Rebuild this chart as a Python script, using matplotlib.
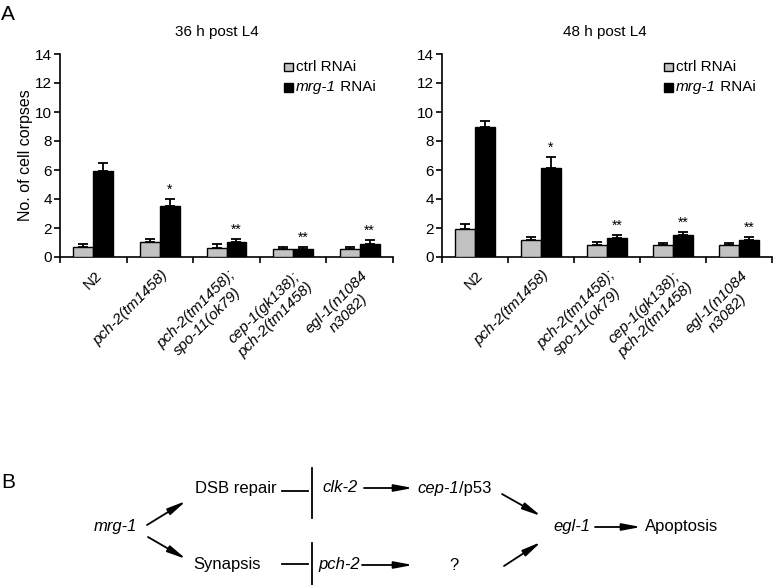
import matplotlib
matplotlib.use("Agg")
import matplotlib.pyplot as plt
import matplotlib.transforms as mtransforms
from matplotlib.lines import Line2D
from matplotlib.patches import Rectangle, FancyArrowPatch
import numpy as np

plt.rcParams['font.family'] = ['Liberation Sans', 'DejaVu Sans']

# genotypes on the x axis
genotypes = ['N2', 'pch-2(tm1458)', 'pch-2(tm1458);\nspo-11(ok79)',
             'cep-1(gk138);\npch-2(tm1458)', 'egl-1(n1084\nn3082)']
italic_label = [False, True, True, True, True]

# 36 h post L4
ctrl_36 = [0.68, 1.03, 0.65, 0.55, 0.57]
ctrl_36_err = [0.2, 0.22, 0.22, 0.13, 0.12]
mrg_36 = [5.93, 3.5, 1.01, 0.57, 0.91]
mrg_36_err = [0.55, 0.52, 0.22, 0.15, 0.24]
sig_36 = ['', '*', '**', '**', '**']

# 48 h post L4
ctrl_48 = [1.93, 1.16, 0.81, 0.81, 0.81]
ctrl_48_err = [0.35, 0.23, 0.24, 0.16, 0.14]
mrg_48 = [8.95, 6.16, 1.28, 1.51, 1.16]
mrg_48_err = [0.42, 0.77, 0.23, 0.23, 0.24]
sig_48 = ['', '*', '**', '**', '**']

GRAY = '#c2c2c2'
W, H = 777, 585
fig = plt.figure(figsize=(7.77, 5.85), dpi=100)


def fx(px):
    return px / W


def fy(py):
    return 1 - py / H


def panel(ax, ctrl, ctrl_err, mrg, mrg_err, sig):
    x = np.arange(len(genotypes))
    bw = 0.3
    err_kw = dict(ecolor='black', elinewidth=1.3, capsize=3.5, capthick=1.3)
    ax.bar(x - bw / 2, ctrl, bw, yerr=[np.zeros(len(ctrl)), ctrl_err],
           color=GRAY, edgecolor='black', linewidth=1.0, error_kw=err_kw, zorder=3)
    ax.bar(x + bw / 2, mrg, bw, yerr=[np.zeros(len(mrg)), mrg_err],
           color='black', edgecolor='black', linewidth=1.0, error_kw=err_kw, zorder=3)
    for i, s in enumerate(sig):
        if s:
            ax.text(x[i] + bw / 2, mrg[i] + mrg_err[i] + 0.15, s,
                    ha='center', va='bottom', fontsize=10)
    ax.set_xlim(-0.5, len(genotypes) - 0.5)
    ax.set_ylim(0, 14)
    ax.set_yticks(range(0, 15, 2))
    ax.set_xticks(np.arange(-0.5, len(genotypes)))
    ax.set_xticklabels([])
    ax.tick_params(axis='x', length=4, width=1.2, direction='out')
    ax.tick_params(axis='y', length=4, width=1.2, labelsize=11, pad=2)
    for sp in ['top', 'right']:
        ax.spines[sp].set_visible(False)
    for sp in ['left', 'bottom']:
        ax.spines[sp].set_linewidth(1.2)

    # rotated genotype labels
    trans = ax.get_xaxis_transform() + mtransforms.ScaledTranslation(
        1 / 100, -11 / 100, fig.dpi_scale_trans)
    for i, (lab, it) in enumerate(zip(genotypes, italic_label)):
        ax.text(x[i], 0, lab, transform=trans, rotation=45, ha='right', va='top',
                rotation_mode='anchor', multialignment='center', fontsize=11,
                fontstyle='italic' if it else 'normal')

    # legend
    lx, sw, sh = 0.672, 0.027, 0.044
    for yy, col in [(0.936, GRAY), (0.837, 'black')]:
        ax.add_patch(Rectangle((lx, yy - sh / 2), sw, sh, transform=ax.transAxes,
                               facecolor=col, edgecolor='black', lw=1.0, clip_on=False))
    ax.text(lx + sw + 0.01, 0.936, 'ctrl RNAi', transform=ax.transAxes,
            va='center', ha='left', fontsize=11)
    t = ax.text(lx + sw + 0.01, 0.837, 'mrg-1', transform=ax.transAxes,
                va='center', ha='left', fontsize=11, fontstyle='italic')
    ax.annotate(' RNAi', xy=(1, 0), xycoords=t, va='bottom', ha='left', fontsize=11)


ax1 = fig.add_axes([fx(60), fy(257), fx(393) - fx(60), fy(54) - fy(257)])
panel(ax1, ctrl_36, ctrl_36_err, mrg_36, mrg_36_err, sig_36)
ax1.set_ylabel('No. of cell corpses', fontsize=11.5)
ax1.yaxis.set_label_coords(-0.08, 0.5)

ax2 = fig.add_axes([fx(442), fy(257), fx(772) - fx(442), fy(54) - fy(257)])
panel(ax2, ctrl_48, ctrl_48_err, mrg_48, mrg_48_err, sig_48)

fig.text(fx(217), fy(32), '36 h post L4', ha='center', va='center', fontsize=11)
fig.text(fx(605), fy(32), '48 h post L4', ha='center', va='center', fontsize=11)
fig.text(fx(1), fy(15), 'A', ha='left', va='center', fontsize=15)

# panel B: pathway diagram
fig.text(fx(1), fy(482), 'B', ha='left', va='center', fontsize=15)
fs = 12
fig.text(fx(115), fy(527), 'mrg-1', ha='center', va='center', fontsize=fs, fontstyle='italic')
fig.text(fx(236), fy(488), 'DSB repair', ha='center', va='center', fontsize=fs)
fig.text(fx(227), fy(565), 'Synapsis', ha='center', va='center', fontsize=fs)
fig.text(fx(340), fy(488), 'clk-2', ha='center', va='center', fontsize=fs, fontstyle='italic')
fig.text(fx(339), fy(565), 'pch-2', ha='center', va='center', fontsize=fs, fontstyle='italic')
t = fig.text(fx(417), fy(488), 'cep-1', ha='left', va='center', fontsize=fs, fontstyle='italic')
fig.add_artist(matplotlib.text.Annotation('/p53', xy=(1, 0), xycoords=t,
                                          va='bottom', ha='left', fontsize=fs))
fig.text(fx(454), fy(566), '?', ha='center', va='center', fontsize=fs)
fig.text(fx(572), fy(527), 'egl-1', ha='center', va='center', fontsize=fs, fontstyle='italic')
fig.text(fx(682), fy(527), 'Apoptosis', ha='center', va='center', fontsize=fs)

arrows = [((147, 525), (186, 501)), ((148, 537), (186, 559)),
          ((364, 488), (413, 488)), ((362, 565), (413, 565)),
          ((502, 494), (541, 516)), ((504, 566), (541, 542)),
          ((595, 527), (641, 527))]
for (x0, y0), (x1, y1) in arrows:
    fig.add_artist(FancyArrowPatch(
        (fx(x0), fy(y0)), (fx(x1), fy(y1)), transform=fig.transFigure,
        arrowstyle='-|>,head_length=0.8,head_width=0.15', mutation_scale=14,
        color='black', linewidth=1.3, shrinkA=0, shrinkB=0))

for y in (491, 564):
    fig.add_artist(Line2D([fx(282), fx(308)], [fy(y), fy(y)], color='black', lw=1.3))
fig.add_artist(Line2D([fx(312), fx(312)], [fy(468), fy(518)], color='black', lw=1.3))
fig.add_artist(Line2D([fx(312), fx(312)], [fy(543), fy(585)], color='black', lw=1.3))

fig.savefig('out.png', dpi=100)
